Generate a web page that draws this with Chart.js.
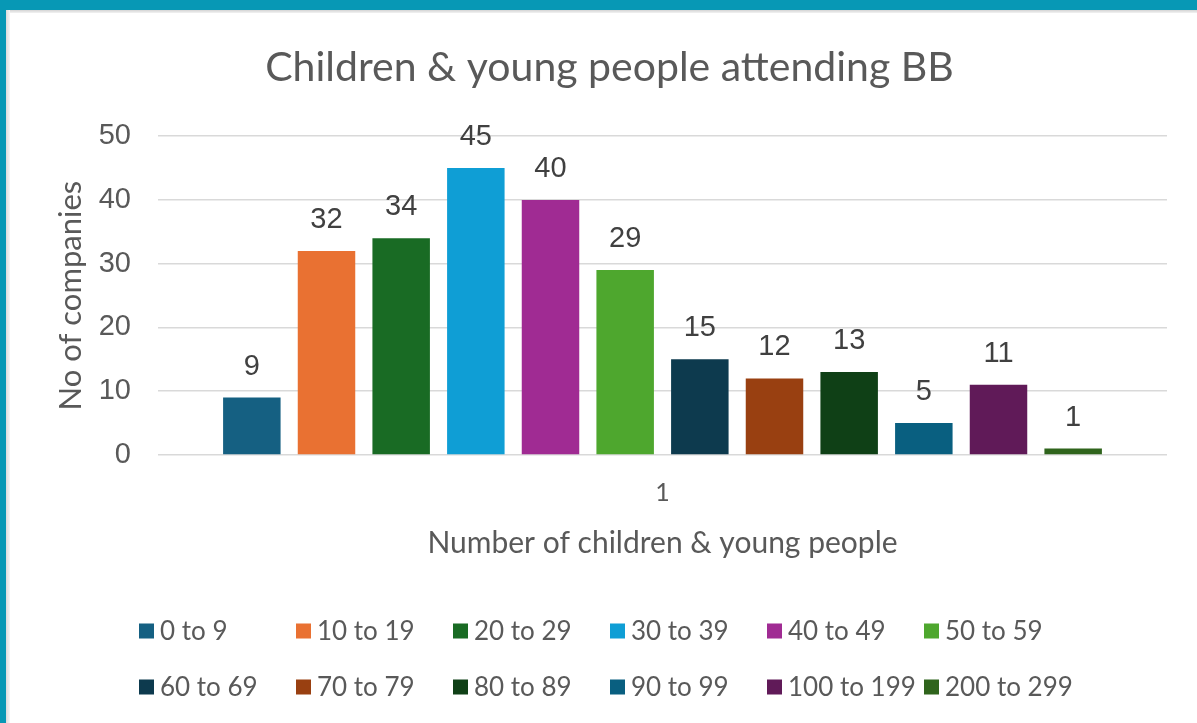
<!DOCTYPE html>
<html>
<head>
<meta charset="utf-8">
<script src="https://cdn.jsdelivr.net/npm/chart.js@4.4.1/dist/chart.umd.min.js"></script>
<style>
  html, body { margin: 0; padding: 0; background: #ffffff; }
  #wrap { position: relative; width: 1197px; height: 723px; overflow: hidden; background: #fff; }
  #c { position: absolute; left: 0; top: 0; }
  .frameTop { position: absolute; left: 0; top: 0; width: 1197px; height: 10px; background: #0798b5; }
  .frameLeft { position: absolute; left: 0; top: 0; width: 6px; height: 723px; background: #0798b5; }
  .innerTop { position: absolute; left: 6px; top: 10px; width: 1191px; height: 3px; background: linear-gradient(#d4d4d4, #f2f2f2); }
  .innerLeft { position: absolute; left: 6px; top: 10px; width: 4px; height: 713px; background: linear-gradient(90deg, #dcdcdc, #f6f6f6); }
</style>
</head>
<body>
<div id="wrap">
  <canvas id="c" width="1197" height="723"></canvas>
  <div class="frameTop"></div>
  <div class="frameLeft"></div>
  <div class="innerTop"></div>
  <div class="innerLeft"></div>
</div>
<script>
// ---- data ----
const categories = ["1"];
const seriesNames = ["0 to 9", "10 to 19", "20 to 29", "30 to 39", "40 to 49", "50 to 59",
                     "60 to 69", "70 to 79", "80 to 89", "90 to 99", "100 to 199", "200 to 299"];
const seriesValues = [9, 32, 34, 45, 40, 29, 15, 12, 13, 5, 11, 1];
const seriesColors = ["#156082", "#E97132", "#196B24", "#0F9ED5", "#A02B93", "#4EA72E",
                      "#0D3A4E", "#994011", "#0F4016", "#095F80", "#601A58", "#2F641C"];
const yTicks = [0, 10, 20, 30, 40, 50];
const chartTitle = "Children & young people attending BB";
const xTitle = "Number of children & young people";
const yTitle = "No of companies";

const officeFont = "Lato, 'Open Sans', sans-serif";
const numFont = "'Liberation Sans', Arial, sans-serif";

const datasets = seriesNames.map((name, i) => ({
  label: name,
  data: [seriesValues[i]],
  backgroundColor: seriesColors[i],
  borderWidth: 0,
  categoryPercentage: 0.888,
  barPercentage: 0.77
}));

const dataLabelPlugin = {
  id: 'dataLabels',
  afterDatasetsDraw(chart) {
    const ctx = chart.ctx;
    ctx.save();
    ctx.font = "29px " + numFont;
    ctx.fillStyle = "#404040";
    ctx.textAlign = "center";
    ctx.textBaseline = "middle";
    chart.data.datasets.forEach((ds, i) => {
      const meta = chart.getDatasetMeta(i);
      meta.data.forEach((el, j) => {
        ctx.fillText(String(ds.data[j]), el.x, el.y - 31);
      });
    });
    ctx.restore();
  }
};

const gridLegendPlugin = {
  id: 'gridLegend',
  afterDraw(chart) {
    const ctx = chart.ctx;
    const perRow = 6, x0 = 139, colW = 157, y0 = 631, rowH = 56, box = 15;
    ctx.save();
    ctx.font = "26px " + officeFont;
    ctx.textBaseline = "middle";
    ctx.textAlign = "left";
    chart.data.datasets.forEach((ds, i) => {
      const col = i % perRow, row = Math.floor(i / perRow);
      const x = x0 + col * colW, y = y0 + row * rowH;
      ctx.fillStyle = ds.backgroundColor;
      ctx.fillRect(x, y - box / 2, box, box);
      ctx.fillStyle = "#595959";
      ctx.fillText(ds.label, x + box + 6, y + 1);
    });
    ctx.restore();
  }
};

new Chart(document.getElementById('c'), {
  type: 'bar',
  data: { labels: categories, datasets },
  options: {
    responsive: false,
    animation: false,
    layout: { padding: { left: 52, right: 30, top: 10, bottom: 162 } },
    plugins: {
      legend: { display: false },
      tooltip: { enabled: false },
      title: {
        display: true,
        text: chartTitle,
        color: "#595959",
        font: { family: officeFont, size: 41, weight: 'normal' },
        padding: { top: 33, bottom: 44 }
      }
    },
    scales: {
      x: {
        grid: { display: false, drawTicks: false },
        border: { display: false },
        ticks: { color: "#595959", font: { family: officeFont, size: 25 }, padding: 23 },
        title: {
          display: true, text: xTitle, color: "#595959",
          font: { family: officeFont, size: 30, weight: 'normal' },
          padding: { top: 17, bottom: 0 }
        },
        afterFit(scale) { scale.height = 106; }
      },
      y: {
        min: 0, max: 50,
        afterBuildTicks(scale) { scale.ticks = yTicks.map(v => ({ value: v })); },
        grid: { color: "#d9d9d9", lineWidth: 1.6, drawTicks: false },
        border: { display: false },
        ticks: { color: "#595959", font: { family: numFont, size: 29 }, padding: 27 },
        title: {
          display: true, text: yTitle, color: "#595959",
          font: { family: officeFont, size: 31, weight: 'normal' },
          padding: { top: 0, bottom: 0 }
        },
        afterFit(scale) { scale.width = 106; }
      }
    }
  },
  plugins: [dataLabelPlugin, gridLegendPlugin]
});
</script>
</body>
</html>
